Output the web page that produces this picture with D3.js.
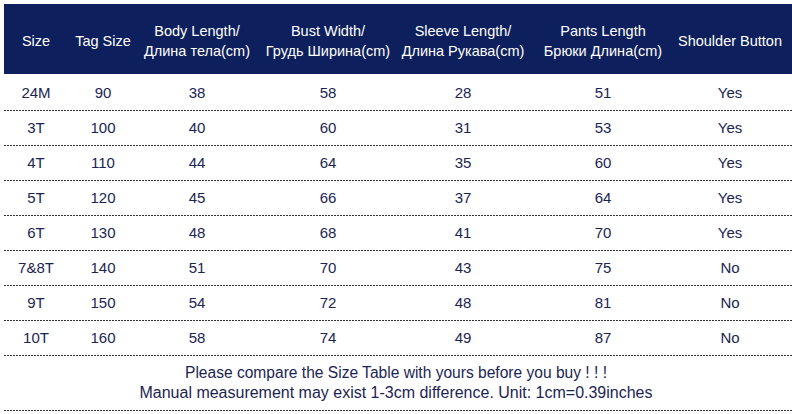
<!DOCTYPE html><html><head><meta charset="utf-8"><script src="https://cdn.jsdelivr.net/npm/d3@7"></script>
<style>body{margin:0;background:#fff}</style></head><body><svg id="c" width="792" height="414"></svg>
<script>
const headers=[["Size"],["Tag Size"],["Body Length/","Длина тела(cm)"],["Bust Width/","Грудь Ширина(cm)"],["Sleeve Length/","Длина Рукава(cm)"],["Pants Length","Брюки Длина(cm)"],["Shoulder Button"]];
const sizes=["24M","3T","4T","5T","6T","7&8T","9T","10T"];
const tagSize=[90,100,110,120,130,140,150,160];
const bodyLength=[38,40,44,45,48,51,54,58];
const bustWidth=[58,60,64,66,68,70,72,74];
const sleeveLength=[28,31,35,37,41,43,48,49];
const pantsLength=[51,53,60,64,70,75,81,87];
const shoulderButton=["Yes","Yes","Yes","Yes","Yes","No","No","No"];
const footer=["Please compare the Size Table with yours before you buy ! ! !","Manual measurement may exist 1-3cm difference.     Unit: 1cm=0.39inches"];
const cols=[sizes,tagSize,bodyLength,bustWidth,sleeveLength,pantsLength,shoulderButton];
const svg=d3.select("#c");
const xc=d3.scaleOrdinal().domain(d3.range(7)).range([36,103,197,328,463,603,730]);
const y=d3.scaleBand().domain(d3.range(8)).range([75,355]);
const ink="#1b2553",font="Liberation Sans, Arial, sans-serif";
svg.append("rect").attr("x",4).attr("y",4).attr("width",788).attr("height",70).attr("fill","#0d1f5c");
headers.forEach((h,i)=>{const t=svg.append("text").attr("x",xc(i)).attr("text-anchor","middle").attr("fill","#fff").attr("font-family",font).attr("font-size",14.5);
 const y0=h.length===1?46:36;
 h.forEach((l,k)=>t.append("tspan").attr("x",xc(i)).attr("y",y0+k*20).text(l));});
cols.forEach((c,i)=>svg.selectAll(null).data(c).join("text").attr("x",xc(i)).attr("y",(d,j)=>y(j)+y.bandwidth()/2+5).attr("text-anchor","middle").attr("fill",ink).attr("font-family",font).attr("font-size",15).text(d=>d));
const lines=d3.range(1,9).map(j=>y(0)+j*y.bandwidth()).concat([410]);
svg.selectAll(null).data(lines).join("line").attr("x1",4).attr("x2",792).attr("y1",d=>d+.5).attr("y2",d=>d+.5).attr("stroke","#333").attr("stroke-dasharray","2,1");
footer.forEach((f,k)=>svg.append("text").attr("x",396).attr("y",378+k*20).attr("text-anchor","middle").attr("fill",ink).attr("font-family",font).attr("font-size",16).attr("textLength",k?513:422).attr("lengthAdjust","spacingAndGlyphs").text(f));
</script></body></html>
